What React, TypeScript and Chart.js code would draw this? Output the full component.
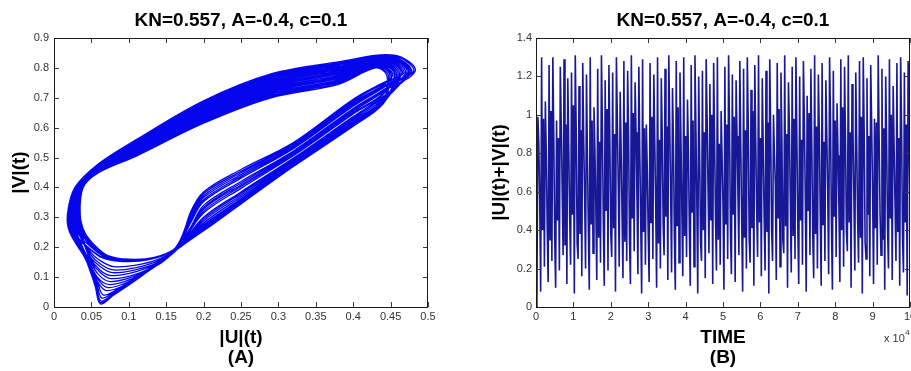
import React, { useEffect, useRef } from 'react';
import { Chart, registerables } from 'chart.js';

Chart.register(...registerables);

const FONT = '"Liberation Sans", Arial, Helvetica, sans-serif';

// ---------- texts ----------
const panelTitle = 'KN=0.557, A=-0.4, c=0.1';
const phaseXLabel = ['|U|(t)', '(A)'];
const phaseYLabel = '|V|(t)';
const timeXLabel = ['TIME', '(B)'];
const timeYLabel = '|U|(t)+|V|(t)';

// ---------- axis ranges / ticks ----------
const phaseXRange = [0, 0.5, 0.05];
const phaseYRange = [0, 0.9, 0.1];
const timeXRange = [0, 100000, 10000];
const timeYRange = [0, 1.4, 0.2];
const timeExponent = 4;

// ---------- panel A: trajectory (|U|, |V|) ----------
const phaseOrbit: [number, number][] = [
  [0.479,0.789],[0.453,0.839],[0.38,0.813],[0.29,0.772],[0.2,0.683],[0.11,0.555],[0.06,0.477],[0.029,0.40],[0.020,0.31],[0.023,0.25],
  [0.044,0.15],[0.055,0.07],[0.062,0.01],[0.08,0.04],[0.115,0.10],[0.162,0.188],
  [0.2,0.268],[0.25,0.357],[0.32,0.478],[0.4,0.614],[0.44,0.687],

  [0.464,0.783],[0.443,0.822],[0.38,0.783],[0.29,0.74],[0.2,0.653],[0.11,0.533],[0.06,0.465],[0.034,0.40],[0.027,0.31],[0.031,0.25],
  [0.05,0.2],[0.068,0.168],[0.095,0.155],[0.13,0.162],[0.163,0.198],
  [0.183,0.305],[0.2,0.372],[0.25,0.449],[0.32,0.542],[0.4,0.686],[0.44,0.743],

  [0.453,0.778],[0.435,0.809],[0.38,0.76],[0.29,0.716],[0.2,0.63],[0.11,0.516],[0.06,0.456],[0.037,0.40],[0.032,0.31],[0.037,0.25],
  [0.047,0.165],[0.06,0.12],[0.076,0.095],[0.11,0.11],[0.14,0.145],[0.165,0.193],
  [0.2,0.294],[0.25,0.38],[0.32,0.494],[0.4,0.632],[0.44,0.701],

  [0.472,0.786],[0.448,0.83],[0.38,0.798],[0.29,0.756],[0.2,0.668],[0.11,0.544],[0.06,0.471],[0.031,0.40],[0.023,0.31],[0.027,0.25],
  [0.048,0.195],[0.066,0.165],[0.093,0.152],[0.128,0.16],[0.162,0.196],
  [0.183,0.26],[0.2,0.333],[0.25,0.414],[0.32,0.518],[0.4,0.659],[0.44,0.722],

  [0.483,0.79],[0.455,0.843],[0.38,0.82],[0.29,0.78],[0.2,0.69],[0.11,0.56],[0.06,0.48],[0.028,0.40],[0.018,0.31],[0.021,0.25],
  [0.045,0.15],[0.057,0.08],[0.064,0.03],[0.082,0.055],[0.116,0.11],[0.162,0.19],
  [0.2,0.255],[0.25,0.345],[0.32,0.47],[0.4,0.605],[0.44,0.68],

  [0.458,0.78],[0.439,0.815],[0.38,0.771],[0.29,0.728],[0.2,0.641],[0.11,0.524],[0.06,0.46],[0.035,0.40],[0.029,0.31],[0.034,0.25],
  [0.048,0.17],[0.062,0.135],[0.078,0.115],[0.11,0.125],[0.14,0.15],[0.165,0.195],
  [0.183,0.32],[0.2,0.385],[0.25,0.46],[0.32,0.55],[0.4,0.695],[0.44,0.75],

  [0.468,0.784],[0.445,0.826],[0.38,0.79],[0.29,0.748],[0.2,0.66],[0.11,0.538],[0.06,0.468],[0.032,0.40],[0.025,0.31],[0.029,0.25],
  [0.045,0.16],[0.058,0.095],[0.072,0.065],[0.1,0.085],[0.135,0.135],[0.164,0.192],
  [0.2,0.275],[0.25,0.362],[0.32,0.482],[0.4,0.619],[0.44,0.69],

  [0.449,0.777],[0.433,0.804],[0.38,0.753],[0.29,0.708],[0.2,0.623],[0.11,0.511],[0.06,0.453],[0.038,0.40],[0.033,0.31],[0.039,0.25],
  [0.053,0.2],[0.07,0.17],[0.097,0.157],[0.132,0.164],[0.164,0.199],
  [0.183,0.283],[0.2,0.353],[0.25,0.431],[0.32,0.53],[0.4,0.672],[0.44,0.733],

  [0.475,0.787],[0.45,0.834],[0.38,0.805],[0.29,0.764],[0.2,0.675],[0.11,0.549],[0.06,0.474],[0.030,0.40],[0.021,0.31],[0.025,0.25],
  [0.044,0.15],[0.056,0.075],[0.063,0.02],[0.081,0.048],[0.115,0.105],[0.162,0.189],
  [0.2,0.262],[0.25,0.351],[0.32,0.474],[0.4,0.61],[0.44,0.684],

  [0.462,0.782],[0.441,0.819],[0.38,0.779],[0.29,0.736],[0.2,0.649],[0.11,0.53],[0.06,0.464],[0.034,0.40],[0.027,0.31],[0.032,0.25],
  [0.05,0.18],[0.065,0.15],[0.08,0.135],[0.11,0.14],[0.14,0.16],[0.165,0.196],
  [0.2,0.314],[0.25,0.397],[0.32,0.506],[0.4,0.646],[0.44,0.712],

  [0.455,0.779],[0.436,0.811],[0.38,0.764],[0.29,0.72],[0.2,0.634],[0.11,0.519],[0.06,0.458],[0.036,0.40],[0.031,0.31],[0.036,0.25],
  [0.051,0.2],[0.069,0.167],[0.096,0.154],[0.131,0.161],[0.163,0.198],
  [0.183,0.298],[0.2,0.366],[0.25,0.443],[0.32,0.538],[0.4,0.682],[0.44,0.74],

  [0.481,0.789],[0.454,0.841],[0.38,0.816],[0.29,0.776],[0.2,0.686],[0.11,0.557],[0.06,0.478],[0.029,0.40],[0.019,0.31],[0.022,0.25],
  [0.045,0.155],[0.057,0.09],[0.07,0.055],[0.098,0.078],[0.132,0.13],[0.163,0.191],
  [0.2,0.281],[0.25,0.368],[0.32,0.486],[0.4,0.623],[0.44,0.694],

  [0.445,0.775],[0.43,0.80],[0.38,0.745],[0.29,0.70],[0.2,0.615],[0.11,0.505],[0.06,0.45],[0.039,0.40],[0.035,0.31],[0.041,0.25],
  [0.055,0.205],[0.072,0.172],[0.1,0.16],[0.134,0.166],[0.165,0.2],
  [0.2,0.327],[0.25,0.408],[0.32,0.514],[0.4,0.655],[0.44,0.719],

  [0.47,0.785],[0.446,0.828],[0.38,0.794],[0.29,0.752],[0.2,0.664],[0.11,0.541],[0.06,0.47],[0.032,0.40],[0.024,0.31],[0.028,0.25],
  [0.044,0.15],[0.055,0.072],[0.062,0.015],[0.08,0.044],[0.115,0.102],[0.162,0.188],
  [0.2,0.266],[0.25,0.355],[0.32,0.476],[0.4,0.613],[0.44,0.686],

  [0.456,0.78],[0.438,0.813],[0.38,0.768],[0.29,0.724],[0.2,0.638],[0.11,0.522],[0.06,0.459],[0.036,0.40],[0.030,0.31],[0.035,0.25],
  [0.047,0.17],[0.061,0.125],[0.077,0.105],[0.11,0.118],[0.14,0.148],[0.165,0.194],
  [0.2,0.3],[0.25,0.385],[0.32,0.498],[0.4,0.637],[0.44,0.705],

  [0.477,0.788],[0.451,0.837],[0.38,0.809],[0.29,0.768],[0.2,0.679],[0.11,0.552],[0.06,0.476],[0.030,0.40],[0.021,0.31],[0.024,0.25],
  [0.047,0.195],[0.065,0.164],[0.092,0.152],[0.127,0.159],[0.162,0.197],
  [0.183,0.313],[0.2,0.379],[0.25,0.454],[0.32,0.546],[0.4,0.69],[0.44,0.747],

  [0.466,0.783],[0.444,0.824],[0.38,0.786],[0.29,0.744],[0.2,0.656],[0.11,0.535],[0.06,0.467],[0.033,0.40],[0.026,0.31],[0.030,0.25],
  [0.046,0.16],[0.058,0.1],[0.074,0.075],[0.105,0.095],[0.138,0.14],[0.164,0.192],
  [0.2,0.288],[0.25,0.374],[0.32,0.49],[0.4,0.628],[0.44,0.698],

  [0.451,0.777],[0.434,0.806],[0.38,0.756],[0.29,0.712],[0.2,0.626],[0.11,0.513],[0.06,0.455],[0.037,0.40],[0.032,0.31],[0.038,0.25],
  [0.052,0.202],[0.07,0.169],[0.098,0.157],[0.133,0.165],[0.164,0.199],
  [0.183,0.268],[0.2,0.34],[0.25,0.42],[0.32,0.522],[0.4,0.664],[0.44,0.726],

  [0.474,0.786],[0.449,0.832],[0.38,0.801],[0.29,0.76],[0.2,0.671],[0.11,0.546],[0.06,0.473],[0.031,0.40],[0.022,0.31],[0.026,0.25],
  [0.046,0.15],[0.058,0.085],[0.066,0.04],[0.085,0.06],[0.118,0.113],[0.163,0.19],
  [0.2,0.258],[0.25,0.347],[0.32,0.472],[0.4,0.606],[0.44,0.681],

  [0.46,0.781],[0.44,0.817],[0.38,0.775],[0.29,0.732],[0.2,0.645],[0.11,0.527],[0.06,0.462],[0.035,0.40],[0.028,0.31],[0.033,0.25],
  [0.049,0.175],[0.063,0.142],[0.079,0.124],[0.11,0.132],[0.14,0.155],[0.165,0.195],
  [0.2,0.32],[0.25,0.403],[0.32,0.51],[0.4,0.65],[0.44,0.715],

  [0.447,0.776],[0.431,0.802],[0.38,0.749],[0.29,0.704],[0.2,0.619],[0.11,0.508],[0.06,0.452],[0.038,0.40],[0.034,0.31],[0.040,0.25],
  [0.054,0.203],[0.071,0.171],[0.099,0.158],[0.133,0.165],[0.165,0.2],
  [0.183,0.29],[0.2,0.359],[0.25,0.437],[0.32,0.534],[0.4,0.677],[0.44,0.736],

  [0.478,0.788],[0.452,0.838],[0.38,0.812],[0.29,0.771],[0.2,0.682],[0.11,0.554],[0.06,0.476],[0.029,0.40],[0.020,0.31],[0.023,0.25],
  [0.046,0.165],[0.059,0.11],[0.075,0.085],[0.11,0.105],[0.14,0.142],[0.165,0.193],
  [0.2,0.273],[0.25,0.36],[0.32,0.48],[0.4,0.618],[0.44,0.689],[0.479,0.789],
];

// ---------- panel B: |U|+|V| against time ----------
const timeStep = 250;
const sumStart = [0, 0.04];
const sumPeaks = [
  0.99, 1.30, 1.07, 1.26, 1.30, 0.97, 1.25, 1.29, 1.19, 1.22,
  1.31, 1.15, 1.27, 1.21, 1.30, 1.04, 1.24, 1.31, 1.18, 1.26,
  1.22, 1.30, 1.12, 1.28, 1.23, 1.31, 1.17, 1.25, 1.29, 0.95,
  1.27, 1.21, 1.30, 1.19, 1.24, 1.31, 1.14, 1.28, 1.22, 1.30,
  1.08, 1.26, 1.31, 1.20, 1.23, 1.29, 1.16, 1.27, 1.30, 1.02,
  1.25, 1.31, 1.21, 1.18, 1.28, 1.24, 1.30, 1.13, 1.26, 1.31,
  1.19, 1.23, 1.29, 1.00, 1.27, 1.22, 1.31, 1.17, 1.25, 1.30,
  1.20, 1.28, 1.10, 1.24, 1.31, 1.21, 1.27, 1.18, 1.30, 1.23,
  1.06, 1.29, 1.25, 1.31, 1.16, 1.22, 1.28, 1.30, 1.19, 1.26,
  0.98, 1.31, 1.24, 1.20, 1.29, 1.15, 1.27, 1.30, 1.22, 1.28,
];
const sumDips = [
  0.85, 0.40, 0.80, 0.35, 0.90, 0.45, 0.95, 0.32, 0.84, 0.48,
  0.92, 0.38, 0.88, 0.79, 0.43, 0.82, 0.36, 0.93, 0.50, 0.86,
  0.41, 0.97, 0.83, 0.34, 0.89, 0.46, 0.91, 0.81, 0.39, 0.72,
  0.44, 0.87, 0.33, 0.90, 0.47, 0.96, 0.85, 0.42, 0.88, 0.37,
  0.82, 0.49, 0.94, 0.80, 0.40, 0.98, 0.45, 0.86, 0.35, 0.78,
  0.43, 0.92, 0.48, 0.89, 0.84, 0.36, 0.95, 0.41, 0.87, 0.44,
  0.83, 0.39, 0.90, 0.80, 0.46, 0.86, 0.42, 0.93, 0.37, 0.88,
  0.45, 0.97, 0.50, 0.84, 0.38, 0.91, 0.43, 0.89, 0.96, 0.47,
  0.79, 0.40, 0.87, 0.44, 0.92, 0.85, 0.36, 0.90, 0.48, 0.94,
  0.41, 0.88, 0.35, 0.86, 0.46, 0.83, 0.39, 0.93, 0.44, 0.87,
];
const sumShoulders = [
  0.55, 0.98, 0.42, 1.02, 0.36, 0.88, 0.61, 0.95, 0.47, 1.05,
  0.33, 0.92, 0.58, 0.40, 0.97, 0.52, 0.86, 0.44, 1.03, 0.38,
  0.90, 0.63, 0.49, 0.96, 0.35, 1.01, 0.57, 0.45, 0.93, 0.39,
  0.99, 0.54, 0.87, 0.43, 0.94, 0.60, 0.37, 1.04, 0.50, 0.89,
  0.41, 0.97, 0.56, 0.34, 0.91, 0.62, 1.00, 0.46, 0.85, 0.53,
  0.95, 0.38, 0.99, 0.59, 0.44, 0.92, 0.36, 1.02, 0.51, 0.88,
  0.47, 0.96, 0.40, 0.64, 1.03, 0.35, 0.90, 0.55, 0.98, 0.42,
  0.87, 0.58, 1.01, 0.37, 0.94, 0.49, 0.86, 0.61, 0.43, 0.97,
  0.52, 1.04, 0.39, 0.91, 0.57, 0.45, 0.99, 0.34, 0.89, 0.60,
  0.96, 0.48, 0.93, 0.41, 1.00, 0.54, 0.88, 0.36, 0.95, 0.50,
];
const sumTroughs = [
  0.08, 0.21, 0.13, 0.24, 0.10, 0.19, 0.27, 0.12, 0.22, 0.07,
  0.25, 0.16, 0.20, 0.09, 0.28, 0.14, 0.23, 0.11, 0.19, 0.26,
  0.08, 0.21, 0.15, 0.24, 0.12, 0.29, 0.17, 0.07, 0.22, 0.13,
  0.25, 0.10, 0.20, 0.27, 0.14, 0.18, 0.09, 0.23, 0.16, 0.26,
  0.11, 0.21, 0.07, 0.24, 0.15, 0.28, 0.12, 0.19, 0.22, 0.09,
  0.25, 0.17, 0.13, 0.27, 0.08, 0.20, 0.23, 0.11, 0.26, 0.16,
  0.19, 0.07, 0.24, 0.14, 0.21, 0.28, 0.10, 0.18, 0.25, 0.12,
  0.22, 0.08, 0.27, 0.15, 0.20, 0.11, 0.24, 0.17, 0.09, 0.26,
  0.13, 0.21, 0.29, 0.10, 0.19, 0.23, 0.07, 0.25, 0.16, 0.12,
  0.22, 0.27, 0.09, 0.20, 0.14, 0.24, 0.11, 0.18, 0.06,
];

// ---------- helpers ----------
function buildTimeSeries() {
  const vals: number[] = [...sumStart];
  sumPeaks.forEach((p, i) => {
    vals.push(p, sumDips[i], sumShoulders[i]);
    if (i < sumTroughs.length) vals.push(sumTroughs[i]);
  });
  return vals.map((y, i) => ({ x: i * timeStep, y }));
}

const fmt = (v: number | string) => String(Number(Number(v).toFixed(3)));

type Deco = {
  title: string;
  xLines: string[];
  yLabel: string;
  yLabelX: number;
  exponent?: { x: number; y: number; power: number };
};

function decoPlugin(d: Deco) {
  return {
    id: 'matlabDeco',
    afterDraw(chart: any) {
      const { ctx, chartArea: a, scales } = chart;
      ctx.save();
      const tl = 5;
      ctx.strokeStyle = '#3a3a3a';
      ctx.lineWidth = 1;
      ctx.beginPath();
      for (const t of scales.x.ticks) {
        const px = Math.round(scales.x.getPixelForValue(t.value)) + 0.5;
        ctx.moveTo(px, a.bottom);
        ctx.lineTo(px, a.bottom - tl);
        ctx.moveTo(px, a.top);
        ctx.lineTo(px, a.top + tl);
      }
      for (const t of scales.y.ticks) {
        const py = Math.round(scales.y.getPixelForValue(t.value)) + 0.5;
        ctx.moveTo(a.left, py);
        ctx.lineTo(a.left + tl, py);
        ctx.moveTo(a.right, py);
        ctx.lineTo(a.right - tl, py);
      }
      ctx.stroke();
      ctx.strokeStyle = '#1a1a1a';
      ctx.strokeRect(a.left + 0.5, a.top + 0.5, a.right - a.left - 1, a.bottom - a.top);

      const cx = (a.left + a.right) / 2;
      ctx.fillStyle = '#000';
      ctx.textAlign = 'center';
      ctx.textBaseline = 'middle';
      ctx.font = `bold 19px ${FONT}`;
      ctx.fillText(d.title, cx, 21);
      ctx.fillText(d.xLines[0], cx, 338);
      ctx.fillText(d.xLines[1], cx, 358);
      ctx.save();
      ctx.translate(d.yLabelX, (a.top + a.bottom) / 2);
      ctx.rotate(-Math.PI / 2);
      ctx.fillText(d.yLabel, 0, 0);
      ctx.restore();

      if (d.exponent) {
        ctx.fillStyle = '#333';
        ctx.textAlign = 'left';
        ctx.textBaseline = 'alphabetic';
        ctx.font = `11px ${FONT}`;
        const base = 'x 10';
        ctx.fillText(base, d.exponent.x, d.exponent.y);
        const w = ctx.measureText(base).width;
        ctx.font = `8px ${FONT}`;
        ctx.fillText(String(d.exponent.power), d.exponent.x + w + 0.5, d.exponent.y - 7);
      }
      ctx.restore();
    },
  };
}

function axisX(range: number[], cb: (v: any) => string, height: number) {
  return {
    type: 'linear',
    position: 'bottom',
    min: range[0],
    max: range[1],
    ticks: {
      stepSize: range[2],
      callback: cb,
      color: '#333',
      font: { family: FONT, size: 11 },
      padding: 3,
      maxRotation: 0,
      autoSkip: false,
    },
    grid: { display: false, drawTicks: false },
    border: { display: false },
    afterFit: (s: any) => {
      s.height = height;
      s.paddingLeft = 0;
      s.paddingRight = 0;
    },
  };
}

function axisY(range: number[], width: number, pad: number) {
  return {
    type: 'linear',
    position: 'left',
    min: range[0],
    max: range[1],
    ticks: {
      stepSize: range[2],
      callback: (v: any) => fmt(v),
      color: '#333',
      font: { family: FONT, size: 11 },
      padding: pad,
      autoSkip: false,
    },
    grid: { display: false, drawTicks: false },
    border: { display: false },
    afterFit: (s: any) => {
      s.width = width;
      s.paddingTop = 0;
      s.paddingBottom = 0;
    },
  };
}

function ChartCanvas({ config, left, width }: { config: any; left: number; width: number }) {
  const ref = useRef<HTMLCanvasElement>(null);
  useEffect(() => {
    const chart = new Chart(ref.current as HTMLCanvasElement, config);
    return () => chart.destroy();
  }, []);
  return (
    <canvas
      ref={ref}
      width={width}
      height={371}
      style={{ position: 'absolute', left, top: 0, width, height: 371 }}
    />
  );
}

export default function App() {
  const phaseConfig = {
    type: 'line',
    data: {
      datasets: [
        {
          data: phaseOrbit.map(([x, y]) => ({ x, y })),
          borderColor: 'rgb(5,5,238)',
          borderWidth: 1.3,
          pointRadius: 0,
          tension: 0.35,
          fill: false,
        },
      ],
    },
    options: {
      responsive: false,
      animation: false,
      devicePixelRatio: 1,
      layout: { padding: { left: 0, right: 32, top: 38, bottom: 0 } },
      plugins: { legend: { display: false }, tooltip: { enabled: false }, title: { display: false } },
      events: [],
      scales: {
        x: axisX(phaseXRange, (v: any) => fmt(v), 64),
        y: axisY(phaseYRange, 54, 5),
      },
    },
    plugins: [
      decoPlugin({ title: panelTitle, xLines: phaseXLabel, yLabel: phaseYLabel, yLabelX: 20 }),
    ],
  };

  const timeConfig = {
    type: 'line',
    data: {
      datasets: [
        {
          data: buildTimeSeries(),
          borderColor: 'rgb(24,24,150)',
          borderWidth: 1.6,
          pointRadius: 0,
          tension: 0,
          fill: false,
        },
      ],
    },
    options: {
      responsive: false,
      animation: false,
      devicePixelRatio: 1,
      layout: { padding: { left: 0, right: 30, top: 38, bottom: 0 } },
      plugins: { legend: { display: false }, tooltip: { enabled: false }, title: { display: false } },
      events: [],
      scales: {
        x: axisX(timeXRange, (v: any) => fmt(Number(v) / Math.pow(10, timeExponent)), 64),
        y: axisY(timeYRange, 76, 4),
      },
    },
    plugins: [
      decoPlugin({
        title: panelTitle,
        xLines: timeXLabel,
        yLabel: timeYLabel,
        yLabelX: 40,
        exponent: { x: 424, y: 342, power: timeExponent },
      }),
    ],
  };

  return (
    <div
      style={{
        position: 'fixed',
        left: 0,
        top: 0,
        width: 911,
        height: 371,
        overflow: 'hidden',
        background: '#fff',
      }}
    >
      <ChartCanvas config={phaseConfig} left={0} width={460} />
      <ChartCanvas config={timeConfig} left={460} width={480} />
    </div>
  );
}
